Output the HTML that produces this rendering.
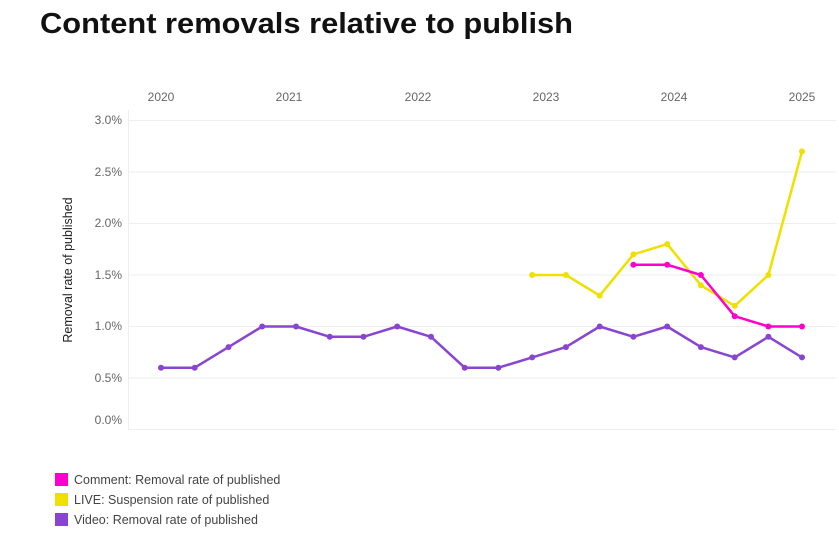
<!DOCTYPE html><html><head><style>body{margin:0;background:#fff;width:839px;height:539px;overflow:hidden;font-family:"Liberation Sans",sans-serif}</style></head><body>
<svg width="839" height="539" xmlns="http://www.w3.org/2000/svg" font-family="Liberation Sans, sans-serif">
<text x="40" y="33" font-size="29" font-weight="bold" fill="#111" textLength="533" lengthAdjust="spacingAndGlyphs">Content removals relative to publish</text>
<g stroke="#eee" stroke-width="1">
<line x1="128" y1="120.5" x2="836" y2="120.5"/><line x1="128" y1="172" x2="836" y2="172"/><line x1="128" y1="223.5" x2="836" y2="223.5"/><line x1="128" y1="275" x2="836" y2="275"/><line x1="128" y1="326.5" x2="836" y2="326.5"/><line x1="128" y1="378" x2="836" y2="378"/><line x1="128" y1="429.5" x2="836" y2="429.5"/><line x1="128.5" y1="110" x2="128.5" y2="430"/>
</g>
<g font-size="12" fill="#666" text-anchor="end">
<text x="122" y="124">3.0%</text><text x="122" y="176">2.5%</text><text x="122" y="227">2.0%</text><text x="122" y="279">1.5%</text><text x="122" y="330">1.0%</text><text x="122" y="382">0.5%</text><text x="122" y="424">0.0%</text>
</g>
<g font-size="12" fill="#666" text-anchor="middle">
<text x="161" y="101">2020</text><text x="289" y="101">2021</text><text x="418" y="101">2022</text><text x="546" y="101">2023</text><text x="674" y="101">2024</text><text x="802" y="101">2025</text>
</g>
<text transform="translate(72,270) rotate(-90)" font-size="12.5" fill="#222" text-anchor="middle">Removal rate of published</text>
<g fill="none" stroke-width="2.5" stroke-linejoin="round">
<polyline stroke="#8a45d0" points="161,367.7 194.7,367.7 228.5,347.1 262.2,326.5 296,326.5 329.7,336.8 363.5,336.8 397.2,326.5 431,336.8 464.7,367.7 498.4,367.7 532.2,357.4 565.9,347.1 599.7,326.5 633.4,336.8 667.2,326.5 700.9,347.1 734.7,357.4 768.4,336.8 802,357.4"/>
<polyline stroke="#f0e000" points="532.2,275 565.9,275 599.7,295.6 633.4,254.4 667.2,244.1 700.9,285.3 734.7,305.9 768.4,275 802,151.4"/>
<polyline stroke="#ff00cc" points="633.4,264.7 667.2,264.7 700.9,275 734.7,316.2 768.4,326.5 802,326.5"/>
</g>
<g fill="#8a45d0"><circle cx="161" cy="367.7" r="3"/><circle cx="194.7" cy="367.7" r="3"/><circle cx="228.5" cy="347.1" r="3"/><circle cx="262.2" cy="326.5" r="3"/><circle cx="296" cy="326.5" r="3"/><circle cx="329.7" cy="336.8" r="3"/><circle cx="363.5" cy="336.8" r="3"/><circle cx="397.2" cy="326.5" r="3"/><circle cx="431" cy="336.8" r="3"/><circle cx="464.7" cy="367.7" r="3"/><circle cx="498.4" cy="367.7" r="3"/><circle cx="532.2" cy="357.4" r="3"/><circle cx="565.9" cy="347.1" r="3"/><circle cx="599.7" cy="326.5" r="3"/><circle cx="633.4" cy="336.8" r="3"/><circle cx="667.2" cy="326.5" r="3"/><circle cx="700.9" cy="347.1" r="3"/><circle cx="734.7" cy="357.4" r="3"/><circle cx="768.4" cy="336.8" r="3"/><circle cx="802" cy="357.4" r="3"/></g>
<g fill="#f0e000"><circle cx="532.2" cy="275" r="3"/><circle cx="565.9" cy="275" r="3"/><circle cx="599.7" cy="295.6" r="3"/><circle cx="633.4" cy="254.4" r="3"/><circle cx="667.2" cy="244.1" r="3"/><circle cx="700.9" cy="285.3" r="3"/><circle cx="734.7" cy="305.9" r="3"/><circle cx="768.4" cy="275" r="3"/><circle cx="802" cy="151.4" r="3"/></g>
<g fill="#ff00cc"><circle cx="633.4" cy="264.7" r="3"/><circle cx="667.2" cy="264.7" r="3"/><circle cx="700.9" cy="275" r="3"/><circle cx="734.7" cy="316.2" r="3"/><circle cx="768.4" cy="326.5" r="3"/><circle cx="802" cy="326.5" r="3"/></g>
<rect x="55" y="473" width="13" height="13" fill="#ff00cc"/><rect x="55" y="493" width="13" height="13" fill="#f0e000"/><rect x="55" y="513" width="13" height="13" fill="#8a45d0"/>
<g font-size="12.5" fill="#444"><text x="74" y="484">Comment: Removal rate of published</text><text x="74" y="504">LIVE: Suspension rate of published</text><text x="74" y="524">Video: Removal rate of published</text></g>
</svg></body></html>
